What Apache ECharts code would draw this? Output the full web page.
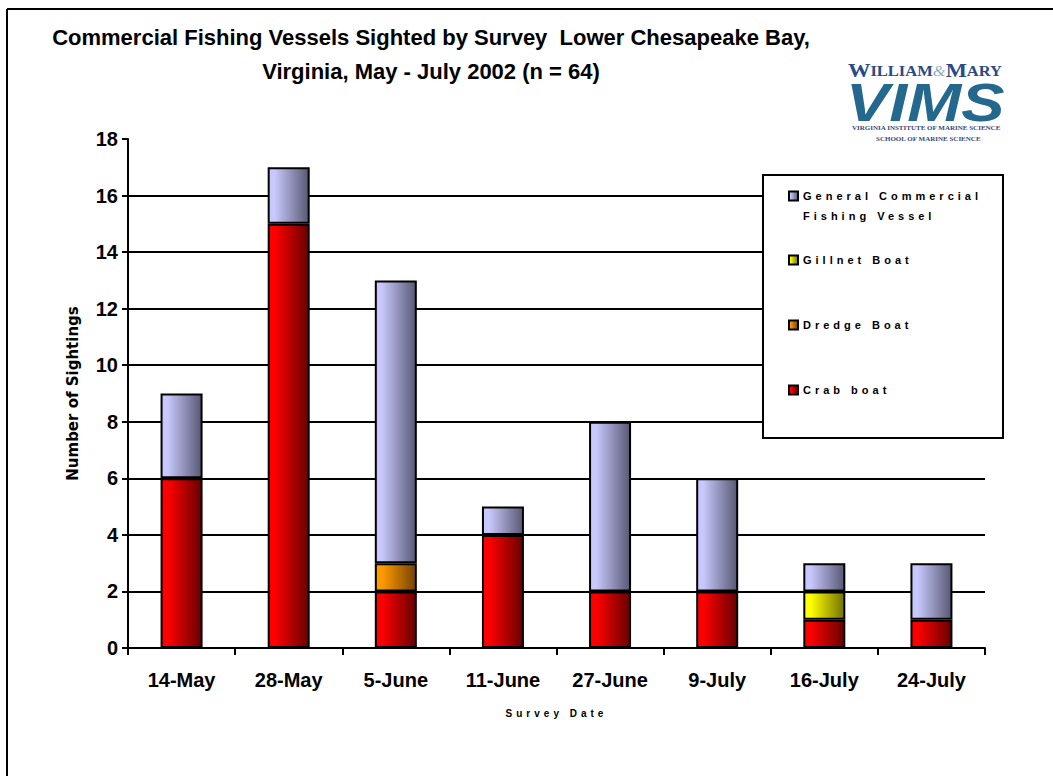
<!DOCTYPE html>
<html>
<head>
<meta charset="utf-8">
<script src="https://cdn.jsdelivr.net/npm/echarts@6/dist/echarts.min.js"></script>
<style>
  html, body { margin: 0; padding: 0; background: #fff; }
  #main { width: 1053px; height: 776px; }
  /* the legend and axis-name labels are spread out in the original */
  #main text[style*="Helvetica"], #main text[font-family*="Helvetica"] { letter-spacing: 4px; }
</style>
</head>
<body>
<div id="main"></div>
<script>
// survey dates and counts per vessel type
var dates = ['14-May', '28-May', '5-June', '11-June', '27-June', '9-July', '16-July', '24-July'];
var crabBoat = [6, 15, 2, 4, 2, 2, 1, 1];
var dredgeBoat = ['-', '-', 1, '-', '-', '-', '-', '-'];
var gillnetBoat = ['-', '-', '-', '-', '-', '-', 1, '-'];
var generalVessel = [3, 2, 10, 1, 6, 4, 1, 2];
var yTicks = { min: 0, max: 18, step: 2 };

var FONT = '"Liberation Sans", Arial, sans-serif';
var SPACED = '"Liberation Sans", Helvetica, sans-serif';

function grad(light, dark) {
    return new echarts.graphic.LinearGradient(0, 0, 1, 0, [
        { offset: 0, color: light },
        { offset: 0.15, color: light },
        { offset: 1, color: dark }
    ]);
}

function barSeries(name, data, light, dark) {
    return {
        name: name,
        type: 'bar',
        stack: 'total',
        data: data,
        barWidth: 42,
        itemStyle: {
            color: grad(light, dark),
            borderColor: '#000',
            borderWidth: 2
        }
    };
}

function legendAt(name, top, extra) {
    return Object.assign({
        data: [name],
        left: 783,
        top: top,
        orient: 'vertical',
        icon: 'rect',
        itemWidth: 9,
        itemHeight: 9,
        itemGap: 0,
        z: 20,
        selectedMode: false,
        itemStyle: { borderColor: '#000', borderWidth: 2 },
        textStyle: { fontFamily: SPACED, fontWeight: 'bold', fontSize: 11, color: '#000', lineHeight: 20 }
    }, extra || {});
}

var myChart = echarts.init(document.getElementById('main'), null, { renderer: 'svg' });

var option = {
    backgroundColor: '#fff',
    animation: false,
    title: {
        text: 'Commercial Fishing Vessels Sighted by Survey  Lower Chesapeake Bay,\nVirginia, May - July 2002 (n = 64)',
        left: 426,
        top: 15,
        textAlign: 'center',
        textStyle: { fontFamily: FONT, fontWeight: 'bold', fontSize: 22, lineHeight: 34, color: '#000' }
    },
    legend: [
        legendAt('General Commercial Fishing Vessel', 161, {
            formatter: function () { return ' \nGeneral Commercial\nFishing Vessel'; }
        }),
        legendAt('Gillnet Boat', 245),
        legendAt('Dredge Boat', 310),
        legendAt('Crab boat', 375)
    ],
    grid: { left: 128, right: 68, top: 139, bottom: 128, containLabel: false },
    xAxis: {
        type: 'category',
        data: dates,
        name: 'Survey Date',
        nameLocation: 'middle',
        nameGap: 60,
        nameTextStyle: { fontFamily: SPACED, fontWeight: 'bold', fontSize: 10, color: '#000' },
        axisLine: { lineStyle: { color: '#000', width: 2 } },
        axisTick: { show: true, length: 7, interval: 0, lineStyle: { color: '#000', width: 2 } },
        axisLabel: { fontFamily: FONT, fontWeight: 'bold', fontSize: 20, color: '#000', margin: 22, interval: 0 }
    },
    yAxis: {
        type: 'value',
        min: yTicks.min,
        max: yTicks.max,
        interval: yTicks.step,
        name: 'Number of Sightings',
        nameLocation: 'middle',
        nameGap: 48,
        nameTextStyle: { fontFamily: '"DejaVu Sans", sans-serif', fontWeight: 'bold', fontSize: 15, color: '#000' },
        axisLine: { show: true, lineStyle: { color: '#000', width: 2 } },
        axisTick: { show: true, length: 6, lineStyle: { color: '#000', width: 2 } },
        axisLabel: { fontFamily: FONT, fontWeight: 'bold', fontSize: 20, color: '#000', margin: 10 },
        splitLine: { show: true, showMinLine: false, showMaxLine: false, lineStyle: { color: '#000', width: 2 } }
    },
    graphic: [
        // outer frame
        { type: 'line', shape: { x1: 7, y1: 9, x2: 1053, y2: 9 }, style: { stroke: '#000', lineWidth: 2 } },
        { type: 'line', shape: { x1: 7, y1: 9, x2: 7, y2: 776 }, style: { stroke: '#000', lineWidth: 2 } },
        // legend box
        { type: 'rect', z: 10, shape: { x: 763, y: 175, width: 240, height: 263 }, style: { fill: '#fff', stroke: '#000', lineWidth: 2 } },
        // logo
        {
            type: 'text', x: 848, y: 61, scaleX: 1.18,
            style: {
                text: '{b|W}{s|ILLIAM}{a|&}{b|M}{s|ARY}',
                rich: {
                    b: { fontFamily: '"Liberation Serif", serif', fontWeight: 'bold', fontSize: 19, fill: '#2a4a86' },
                    s: { fontFamily: '"Liberation Serif", serif', fontWeight: 'bold', fontSize: 14, fill: '#2a4a86' },
                    a: { fontFamily: '"Liberation Serif", serif', fontStyle: 'italic', fontSize: 14, fill: '#8fb0c0' }
                }
            }
        },
        {
            type: 'text', x: 846, y: 75, scaleX: 1.2,
            style: {
                text: 'VIMS',
                font: 'italic bold 54px "Liberation Sans", Arial, sans-serif',
                fill: '#24688e'
            }
        },
        {
            type: 'text', x: 852, y: 124,
            style: { text: 'VIRGINIA INSTITUTE OF MARINE SCIENCE', font: 'bold 7px "Liberation Serif", serif', fill: '#3a4a78' }
        },
        {
            type: 'text', x: 876, y: 135,
            style: { text: 'SCHOOL OF MARINE SCIENCE', font: 'bold 7px "Liberation Serif", serif', fill: '#3a4a78' }
        }
    ],
    series: [
        barSeries('Crab boat', crabBoat, '#ff0000', '#680000'),
        barSeries('Dredge Boat', dredgeBoat, '#ff9a00', '#744400'),
        barSeries('Gillnet Boat', gillnetBoat, '#ffff00', '#727200'),
        barSeries('General Commercial Fishing Vessel', generalVessel, '#c8c8fc', '#585874')
    ]
};

option && myChart.setOption(option);
</script>
</body>
</html>
